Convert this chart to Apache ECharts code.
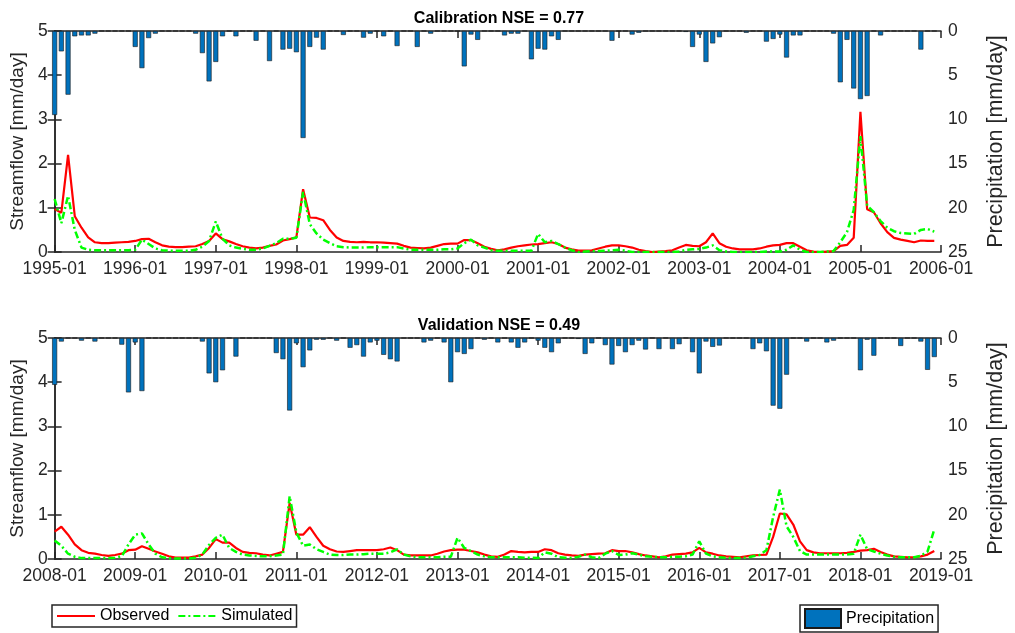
<!DOCTYPE html>
<html>
<head>
<meta charset="utf-8">
<script src="https://cdn.jsdelivr.net/npm/echarts@6/dist/echarts.min.js"></script>
<style>
    html, body {margin: 0; padding: 0; background: #fff;}
    #chart {width: 1015px; height: 633px;}
</style>
</head>
<body>
<div id="chart"></div>
<script>
// monthly values, one row per year
const calTickLabels = ['1995-01', '1996-01', '1997-01', '1998-01', '1999-01', '2000-01',
    '2001-01', '2002-01', '2003-01', '2004-01', '2005-01', '2006-01'];
const valTickLabels = ['2008-01', '2009-01', '2010-01', '2011-01', '2012-01', '2013-01',
    '2014-01', '2015-01', '2016-01', '2017-01', '2018-01', '2019-01'];

const calObserved = [
    0.97, 0.89, 2.2, 0.81, 0.55, 0.33, 0.22, 0.2, 0.2, 0.21, 0.22, 0.23,
    0.25, 0.29, 0.3, 0.22, 0.15, 0.12, 0.11, 0.11, 0.12, 0.13, 0.18, 0.25,
    0.42, 0.29, 0.24, 0.18, 0.13, 0.1, 0.08, 0.1, 0.14, 0.17, 0.26, 0.29,
    0.33, 1.42, 0.78, 0.77, 0.72, 0.5, 0.33, 0.25, 0.23, 0.22, 0.23, 0.22,
    0.22, 0.21, 0.2, 0.19, 0.14, 0.1, 0.09, 0.08, 0.1, 0.14, 0.18, 0.19,
    0.19, 0.27, 0.27, 0.2, 0.12, 0.07, 0.04, 0.06, 0.1, 0.13, 0.15, 0.17,
    0.18, 0.2, 0.22, 0.18, 0.1, 0.06, 0.03, 0.03, 0.04, 0.08, 0.12, 0.15,
    0.15, 0.13, 0.1, 0.05, 0.02, 0.0, 0.01, 0.02, 0.04, 0.1, 0.16, 0.14,
    0.13, 0.22, 0.42, 0.2, 0.12, 0.08, 0.06, 0.06, 0.06, 0.08, 0.12, 0.15,
    0.16, 0.2, 0.2, 0.12, 0.04, 0.01, 0.0, 0.01, 0.02, 0.14, 0.16, 0.32,
    3.17, 0.97, 0.9, 0.65, 0.45, 0.32, 0.28, 0.25, 0.22, 0.26, 0.25, 0.25
];
const calSimulated = [
    1.2, 0.65, 1.27, 0.5, 0.1, 0.05, 0.04, 0.04, 0.04, 0.04, 0.04, 0.04,
    0.05, 0.28, 0.18, 0.08, 0.04, 0.03, 0.03, 0.03, 0.03, 0.05, 0.12, 0.25,
    0.69, 0.3, 0.15, 0.1, 0.07, 0.05, 0.05, 0.08, 0.14, 0.2, 0.3, 0.3,
    0.32, 1.36, 0.63, 0.42, 0.28, 0.2, 0.13, 0.11, 0.1, 0.1, 0.1, 0.11,
    0.11, 0.11, 0.11, 0.11, 0.08, 0.05, 0.05, 0.05, 0.05, 0.05, 0.06, 0.06,
    0.08, 0.2, 0.28, 0.15, 0.1, 0.04, 0.03, 0.03, 0.03, 0.03, 0.03, 0.03,
    0.41, 0.22, 0.25, 0.18, 0.1, 0.04, 0.0, 0.01, 0.02, 0.02, 0.03, 0.04,
    0.05, 0.03, 0.0, 0.0, 0.0, 0.0, 0.0, 0.0, 0.0, 0.01, 0.05, 0.06,
    0.07, 0.1, 0.15, 0.04, 0.01, 0.0, 0.0, 0.0, 0.0, 0.0, 0.01, 0.01,
    0.01, 0.05, 0.15, 0.05, 0.0, 0.0, 0.0, 0.01, 0.02, 0.22, 0.45, 0.95,
    2.62, 1.05, 0.9, 0.7, 0.55, 0.47, 0.43, 0.42, 0.41, 0.5, 0.52, 0.46
];
const calPrecip = [
    9.5, 2.3, 7.2, 0.6, 0.5, 0.5, 0.3, 0, 0, 0, 0, 0,
    1.8, 4.2, 0.8, 0.3, 0, 0, 0, 0, 0, 0.3, 2.5, 5.7,
    3.5, 0.6, 0, 0.6, 0, 0, 1.1, 0, 3.4, 0, 2.1, 2.0,
    2.4, 12.1, 1.8, 0.75, 2.1, 0, 0, 0.45, 0, 0, 0.75, 0.3,
    0, 0.6, 0, 1.7, 0, 0, 1.8, 0, 0.3, 0, 0, 0,
    0, 4.0, 0.4, 1.0, 0, 0, 0, 0.5, 0.3, 0.3, 0, 3.2,
    2.0, 2.1, 0.6, 1.0, 0, 0, 0, 0, 0, 0, 0, 1.1,
    0, 0, 0.4, 0.2, 0, 0, 0, 0, 0, 0, 0.1, 1.8,
    0.4, 3.5, 1.4, 0.7, 0, 0, 0, 0.2, 0, 0, 1.2, 0.9,
    0.4, 3.0, 0.5, 0.5, 0, 0, 0, 0, 0.3, 5.8, 1.0, 6.5,
    7.7, 7.35, 0, 0.5, 0, 0, 0, 0, 0, 2.1, 0, 0
];

const valObserved = [
    0.62, 0.73, 0.55, 0.33, 0.2, 0.14, 0.12, 0.09, 0.07, 0.09, 0.12, 0.2,
    0.21, 0.29, 0.23, 0.17, 0.12, 0.06, 0.03, 0.03, 0.03, 0.06, 0.1, 0.25,
    0.45, 0.37, 0.37, 0.25, 0.16, 0.14, 0.13, 0.1, 0.08, 0.12, 0.16, 1.27,
    0.55, 0.55, 0.72, 0.5, 0.3, 0.22, 0.17, 0.16, 0.18, 0.2, 0.2, 0.2,
    0.2, 0.22, 0.26, 0.2, 0.1, 0.08, 0.08, 0.08, 0.08, 0.12, 0.17, 0.2,
    0.21, 0.21, 0.18, 0.15, 0.1, 0.06, 0.05, 0.1, 0.18, 0.16, 0.15, 0.16,
    0.16, 0.22, 0.2, 0.13, 0.1, 0.08, 0.07, 0.1, 0.11, 0.12, 0.13, 0.2,
    0.18, 0.18, 0.15, 0.11, 0.08, 0.06, 0.04, 0.06, 0.1, 0.11, 0.12, 0.15,
    0.25, 0.15, 0.12, 0.08, 0.06, 0.05, 0.04, 0.06, 0.08, 0.09, 0.1, 0.5,
    1.03, 1.01, 0.78, 0.4, 0.2, 0.15, 0.13, 0.13, 0.13, 0.13, 0.14, 0.16,
    0.19, 0.2, 0.23, 0.16, 0.1, 0.06, 0.05, 0.04, 0.04, 0.06, 0.1, 0.18
];
const valSimulated = [
    0.42, 0.3, 0.12, 0.05, 0.02, 0.02, 0.02, 0.02, 0.02, 0.03, 0.06, 0.33,
    0.55, 0.58, 0.33, 0.12, 0.04, 0.02, 0.01, 0.01, 0.01, 0.03, 0.1, 0.32,
    0.48, 0.55, 0.25, 0.16, 0.1, 0.08, 0.07, 0.06, 0.06, 0.08, 0.1, 1.42,
    0.6, 0.3, 0.33, 0.22, 0.16, 0.1, 0.09, 0.09, 0.1, 0.1, 0.11, 0.12,
    0.12, 0.12, 0.15, 0.22, 0.1, 0.06, 0.04, 0.04, 0.04, 0.04, 0.05, 0.05,
    0.48, 0.25, 0.18, 0.1, 0.06, 0.04, 0.04, 0.04, 0.04, 0.04, 0.03, 0.03,
    0.02, 0.15, 0.12, 0.04, 0.03, 0.02, 0.05, 0.1, 0.04, 0.02, 0.12, 0.18,
    0.09, 0.1, 0.13, 0.1, 0.06, 0.05, 0.04, 0.04, 0.05, 0.05, 0.06, 0.1,
    0.4, 0.12, 0.06, 0.04, 0.03, 0.02, 0.02, 0.03, 0.06, 0.09, 0.2, 0.95,
    1.57, 0.74, 0.5, 0.18, 0.1, 0.1, 0.1, 0.1, 0.1, 0.1, 0.1, 0.12,
    0.55, 0.22, 0.17, 0.12, 0.08, 0.05, 0.04, 0.04, 0.04, 0.07, 0.17, 0.67
];
const valPrecip = [
    5.3, 0.4, 0, 0, 0.3, 0, 0.4, 0, 0, 0, 0.75, 6.15,
    0.5, 6.0, 0, 0, 0, 0, 0, 0, 0, 0, 0.4, 4.0,
    5.0, 3.65, 0, 2.1, 0, 0, 0, 0, 0, 1.7, 2.4, 8.2,
    0.6, 3.3, 1.4, 0.2, 0.2, 0, 0.3, 0, 1.1, 0.8, 2.1, 0.5,
    0.3, 1.9, 2.4, 2.65, 0, 0, 0, 0.5, 0.3, 0, 0.5, 5.0,
    1.6, 1.8, 1.25, 0, 0.2, 0, 0.5, 0, 0.5, 1.1, 0.5, 0,
    0.3, 1.1, 1.6, 0.6, 0, 0, 0.1, 1.8, 0.6, 0, 0.8, 3.0,
    0.9, 1.6, 0.8, 0.3, 1.3, 0, 1.25, 0, 1.25, 0.7, 0, 1.6,
    4.0, 0.4, 1.0, 0.85, 0, 0, 0, 0, 1.25, 0.6, 1.5, 7.65,
    8.0, 4.15, 0, 0, 0.4, 0, 0, 0.5, 0.3, 0, 0, 0,
    3.65, 0.2, 2.0, 0, 0, 0, 0.9, 0, 0, 0.4, 3.6, 2.15
];

const axisColor = '#262626';
const fontFamily = 'Liberation Sans, Arial, sans-serif';

function pairs(values) {
    return values.map((v, i) => [i, v]);
}

function xAxes(gridIndex, labels) {
    const line = {show: true, lineStyle: {color: axisColor, width: 1.5}};
    const tick = {show: true, inside: true, length: 7, lineStyle: {color: axisColor, width: 1.5}};
    return [
        {
            gridIndex: gridIndex, type: 'value', position: 'bottom',
            min: 0, max: 132, interval: 12,
            axisLine: line, axisTick: tick, splitLine: {show: false},
            axisLabel: {
                formatter: v => labels[v / 12],
                color: axisColor, fontSize: 17.5, fontFamily: fontFamily, margin: 8
            }
        },
        {
            gridIndex: gridIndex, type: 'value', position: 'top',
            min: 0, max: 132, interval: 12,
            axisLine: line, axisTick: tick, splitLine: {show: false},
            axisLabel: {show: false}
        }
    ];
}

function yAxes(gridIndex) {
    const line = {show: true, lineStyle: {color: axisColor, width: 1.5}};
    const tick = {show: true, inside: true, length: 7, lineStyle: {color: axisColor, width: 1.5}};
    const label = {color: axisColor, fontSize: 17.5, fontFamily: fontFamily, margin: 7};
    return [
        {
            gridIndex: gridIndex, type: 'value', position: 'left',
            min: 0, max: 5, interval: 1,
            name: 'Streamflow [mm/day]', nameLocation: 'middle', nameGap: 17,
            nameTextStyle: {color: axisColor, fontSize: 19, fontFamily: fontFamily},
            axisLine: line, axisTick: tick, axisLabel: label, splitLine: {show: false}
        },
        {
            gridIndex: gridIndex, type: 'value', position: 'right',
            min: 0, max: 25, interval: 5, inverse: true,
            name: 'Precipitation [mm/day]', nameLocation: 'middle', nameGap: 44,
            nameRotate: 90,
            nameTextStyle: {color: axisColor, fontSize: 21.5, fontFamily: fontFamily},
            axisLine: line, axisTick: tick, axisLabel: label, splitLine: {show: false}
        }
    ];
}

function panelSeries(xIndex, yIndex, observed, simulated, precip) {
    return [
        {
            name: 'Precipitation', type: 'bar',
            xAxisIndex: xIndex, yAxisIndex: yIndex + 1,
            data: pairs(precip), barWidth: 5,
            itemStyle: {color: '#0072BD', borderColor: '#1a1a1a', borderWidth: 0.6}
        },
        {
            name: 'Observed', type: 'line',
            xAxisIndex: xIndex, yAxisIndex: yIndex,
            data: pairs(observed), symbol: 'none', showSymbol: false,
            lineStyle: {color: '#ff0000', width: 2.2}, itemStyle: {color: '#ff0000'}
        },
        {
            name: 'Simulated', type: 'line',
            xAxisIndex: xIndex, yAxisIndex: yIndex,
            data: pairs(simulated), symbol: 'none', showSymbol: false,
            lineStyle: {color: '#00ff00', width: 2.5, type: [7, 3, 2, 3]}, itemStyle: {color: '#00ff00'}
        }
    ];
}

const chartDom = document.getElementById('chart');
const myChart = echarts.init(chartDom, null, {renderer: 'canvas'});
let option;

option = {
    animation: false,
    textStyle: {fontFamily: fontFamily},
    title: [
        {
            text: 'Calibration NSE = 0.77', left: 494, top: 6, textAlign: 'center',
            textStyle: {fontSize: 16, fontWeight: 'bold', color: '#000', fontFamily: fontFamily}
        },
        {
            text: 'Validation NSE = 0.49', left: 494, top: 313, textAlign: 'center',
            textStyle: {fontSize: 16, fontWeight: 'bold', color: '#000', fontFamily: fontFamily}
        }
    ],
    legend: [
        {
            data: ['Observed', 'Simulated'], left: 52, top: 605,
            borderColor: axisColor, borderWidth: 1.5, padding: [3, 4],
            itemWidth: 38, itemHeight: 14, itemGap: 8,
            itemStyle: {opacity: 0},
            textStyle: {fontSize: 16, color: '#000', fontFamily: fontFamily}
        },
        {
            data: [{name: 'Precipitation', icon: 'rect'}], left: 800, top: 605,
            borderColor: axisColor, borderWidth: 1.5, padding: [3, 4],
            itemWidth: 36, itemHeight: 19,
            textStyle: {fontSize: 16, color: '#000', fontFamily: fontFamily}
        }
    ],
    grid: [
        {left: 51, right: 71, top: 31, height: 221},
        {left: 51, right: 71, top: 338, height: 221}
    ],
    xAxis: [...xAxes(0, calTickLabels), ...xAxes(1, valTickLabels)],
    yAxis: [...yAxes(0), ...yAxes(1)],
    series: [
        ...panelSeries(0, 0, calObserved, calSimulated, calPrecip),
        ...panelSeries(2, 2, valObserved, valSimulated, valPrecip)
    ]
};

option && myChart.setOption(option);
</script>
</body>
</html>
